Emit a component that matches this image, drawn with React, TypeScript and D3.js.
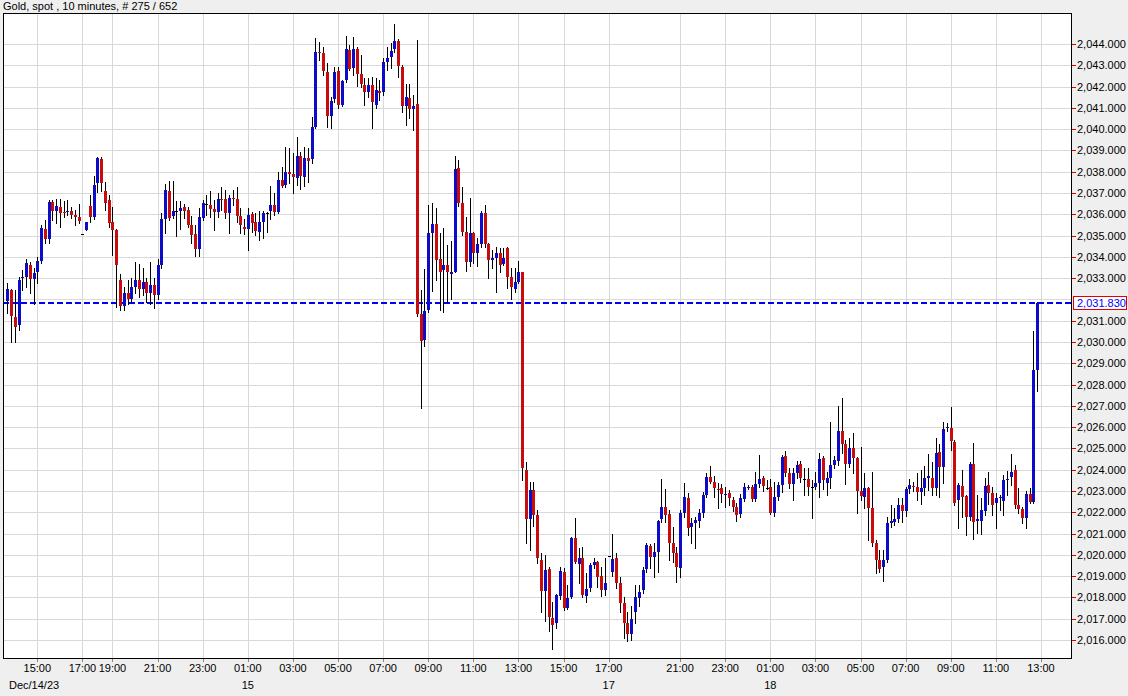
import React, { useEffect } from "react";
import * as d3 from "d3";

// ---- Data (10-minute Gold spot candles) ----
const opens: number[] = [
2031.94,2032.44,2031.16,2030.8,2033.0,2033.07,2033.62,2032.95,2033.3,2033.82,
2035.32,2034.82,2036.56,2036.17,2036.36,2036.1,2036.12,2036.17,2035.98,2035.89,
2035.06,2035.26,2036.39,2035.89,2037.46,2038.6,2037.09,2036.67,2035.65,2035.26,
2032.9,2031.7,2032.3,2032.0,2032.6,2032.9,2032.5,2032.8,2032.3,2032.7,
2032.2,2033.6,2035.78,2037.09,2035.92,2036.15,2036.15,2036.34,2036.2,2035.5,
2035.07,2034.35,2035.84,2036.47,2036.44,2036.23,2036.12,2036.7,2036.72,2036.05,
2036.78,2036.72,2035.92,2035.4,2035.3,2036.01,2035.65,2035.18,2035.65,2036.05,
2036.17,2036.42,2036.12,2037.61,2037.39,2038.0,2037.89,2037.72,2038.74,2037.77,
2038.66,2038.58,2040.12,2043.64,2043.59,2042.7,2040.62,2041.4,2042.73,2041.13,
2042.31,2043.72,2042.86,2043.77,2042.59,2042.07,2041.76,2042.07,2041.13,2041.79,
2041.73,2043.17,2043.39,2043.75,2044.15,2042.93,2041.1,2041.45,2040.93,2041.17,
2031.32,2030.08,2031.5,2035.1,2035.54,2033.9,2033.4,2033.62,2033.2,2033.3,
2038.16,2036.52,2035.18,2033.77,2035.1,2034.2,2034.6,2036.07,2034.6,2033.85,
2033.96,2034.17,2033.66,2034.4,2033.07,2032.5,2032.8,2033.27,2023.99,2021.68,
2023.05,2021.87,2019.76,2018.32,2019.34,2017.05,2016.78,2018.07,2019.21,2017.52,
2018.04,2020.78,2019.57,2019.87,2018.07,2018.46,2019.52,2019.66,2019.0,2018.35,
2019.95,2019.2,2019.84,2018.66,2017.75,2016.8,2016.3,2017.3,2017.96,2018.35,
2019.33,2020.42,2019.9,2020.15,2021.67,2022.23,2021.92,2020.54,2020.1,2019.4,
2021.95,2022.69,2021.33,2021.48,2021.6,2021.95,2022.81,2023.64,2023.44,2023.08,
2023.16,2022.81,2022.89,2022.57,2022.23,2021.92,2022.62,2023.18,2023.2,2022.61,
2023.31,2023.59,2023.16,2023.18,2021.95,2022.73,2023.28,2024.64,2023.86,2023.33,
2023.83,2024.25,2023.55,2023.55,2023.2,2023.2,2023.36,2024.53,2023.36,2023.62,
2024.22,2024.43,2025.83,2025.22,2024.27,2025.02,2024.53,2023.0,2022.73,2023.13,
2022.18,2020.57,2019.76,2019.44,2019.76,2021.5,2021.55,2021.67,2022.34,2022.08,
2023.08,2023.25,2023.2,2022.97,2023.12,2023.6,2023.6,2023.13,2024.85,2024.11,
2025.95,2025.95,2025.29,2022.58,2023.23,2022.77,2021.8,2024.27,2021.6,2021.6,
2022.07,2023.27,2022.89,2022.42,2022.66,2022.55,2023.53,2023.67,2023.99,2022.34,
2022.14,2021.75,2022.86,2022.5,2028.68
];
const highs: number[] = [
2032.76,2032.5,2032.44,2033.07,2033.38,2033.89,2033.77,2033.46,2034.0,2035.5,
2035.73,2036.67,2036.67,2036.7,2036.7,2036.64,2036.67,2036.36,2036.2,2036.5,
2035.06,2035.64,2036.9,2037.8,2038.7,2038.68,2037.53,2036.9,2036.36,2035.3,
2033.2,2032.6,2032.9,2033.0,2033.77,2033.66,2033.46,2033.0,2033.76,2033.0,
2033.9,2036.05,2037.41,2037.56,2037.56,2036.64,2036.62,2036.47,2036.35,2035.9,
2035.5,2036.28,2036.67,2036.9,2037.1,2036.67,2036.98,2037.3,2037.14,2036.9,
2037.14,2037.3,2036.28,2035.76,2036.28,2036.12,2036.05,2036.17,2036.17,2036.12,
2037.33,2037.0,2038.0,2038.23,2039.18,2039.1,2038.87,2039.65,2038.94,2039.15,
2039.1,2040.58,2044.27,2044.11,2043.87,2043.1,2041.52,2042.9,2042.93,2042.3,
2044.38,2043.95,2044.34,2043.87,2043.48,2042.39,2042.39,2042.46,2042.39,2042.31,
2043.36,2043.87,2044.03,2044.92,2044.23,2043.0,2042.12,2042.12,2041.6,2044.19,
2032.44,2033.43,2036.43,2036.52,2036.28,2035.14,2035.34,2034.56,2034.76,2038.74,
2038.55,2037.3,2035.89,2036.75,2035.18,2034.87,2036.15,2036.44,2034.64,2034.32,
2034.48,2034.4,2034.4,2034.48,2033.46,2033.46,2033.82,2033.3,2024.38,2023.44,
2023.44,2022.11,2020.07,2019.99,2019.44,2017.8,2018.16,2019.44,2019.37,2018.58,
2020.85,2021.72,2020.31,2020.39,2019.13,2019.6,2019.83,2019.7,2019.44,2019.84,
2019.95,2020.98,2020.07,2018.97,2018.0,2017.3,2017.6,2018.58,2018.58,2019.44,
2020.54,2020.5,2020.54,2021.64,2023.55,2023.08,2022.11,2021.33,2020.39,2022.11,
2023.39,2022.92,2021.75,2021.8,2022.14,2022.97,2023.83,2024.17,2023.7,2023.39,
2023.33,2023.2,2023.05,2022.73,2022.42,2022.86,2023.36,2023.3,2023.3,2023.9,
2024.69,2023.7,2023.52,2023.55,2023.44,2023.4,2024.69,2024.88,2024.06,2024.06,
2024.42,2024.42,2024.06,2024.06,2023.52,2023.9,2024.77,2024.64,2023.9,2026.26,
2024.65,2027.0,2027.35,2025.4,2025.48,2025.72,2024.61,2025.05,2023.83,2023.2,
2023.9,2020.7,2020.23,2020.23,2021.8,2022.34,2022.2,2022.66,2022.66,2023.2,
2023.55,2023.4,2023.86,2023.99,2024.17,2024.72,2024.38,2025.5,2025.2,2026.26,
2026.2,2026.95,2025.4,2023.36,2023.99,2022.81,2024.38,2025.24,2022.81,2022.66,
2023.6,2023.89,2023.2,2022.89,2022.81,2023.75,2023.95,2024.74,2024.22,2023.13,
2022.26,2023.0,2023.13,2030.53,2031.9
];
const lows: number[] = [
2031.38,2030.02,2029.98,2030.56,2032.44,2032.6,2032.32,2031.77,2032.76,2033.7,
2034.64,2034.64,2035.73,2035.58,2035.42,2035.89,2035.97,2035.81,2035.5,2035.58,
2035.06,2035.26,2035.65,2035.76,2037.06,2037.1,2036.2,2035.42,2034.1,2031.66,
2031.5,2031.5,2031.8,2031.9,2032.3,2032.1,2032.2,2031.9,2031.8,2031.6,
2032.0,2033.5,2035.11,2035.73,2035.81,2034.99,2035.31,2035.81,2035.4,2034.64,
2034.05,2034.05,2035.73,2035.97,2035.89,2035.26,2035.89,2036.2,2035.81,2035.1,
2036.44,2035.65,2035.1,2035.06,2034.32,2035.18,2035.03,2034.79,2034.9,2035.18,
2035.78,2035.97,2036.05,2037.3,2037.3,2037.46,2037.0,2037.38,2037.17,2037.33,
2037.5,2038.4,2040.04,2043.25,2042.54,2040.12,2040.04,2041.29,2040.98,2041.1,
2042.23,2042.78,2042.54,2042.04,2041.99,2041.13,2041.52,2040.04,2040.98,2041.37,
2041.6,2042.78,2042.86,2043.64,2042.46,2040.82,2040.2,2040.51,2039.96,2031.2,
2026.88,2029.83,2031.42,2032.4,2032.9,2031.5,2031.42,2031.9,2032.0,2033.3,
2036.4,2035.03,2033.35,2033.57,2033.7,2033.57,2034.48,2034.48,2033.0,2033.46,
2032.36,2033.3,2033.6,2032.52,2032.0,2032.36,2032.76,2023.5,2020.57,2020.23,
2021.36,2019.63,2017.33,2016.9,2016.4,2015.57,2016.55,2017.93,2017.41,2017.44,
2017.96,2019.6,2018.66,2018.04,2017.8,2018.32,2019.4,2018.5,2018.07,2018.1,
2019.95,2019.0,2018.43,2017.33,2016.1,2015.95,2016.0,2016.8,2017.6,2018.19,
2019.21,2019.37,2018.97,2019.21,2021.56,2021.56,2019.76,2019.68,2018.74,2018.97,
2021.8,2020.95,2020.54,2020.31,2021.33,2021.8,2022.73,2023.36,2022.73,2022.2,
2022.5,2022.26,2022.34,2022.06,2021.6,2021.8,2022.54,2023.1,2022.54,2022.53,
2023.18,2023.0,2023.1,2021.9,2021.83,2022.6,2022.97,2023.7,2023.13,2022.58,
2023.6,2023.4,2022.81,2022.83,2021.72,2023.1,2022.73,2023.08,2022.8,2023.13,
2024.1,2024.22,2024.77,2023.33,2024.14,2023.83,2021.98,2022.6,2022.18,2020.7,
2020.4,2019.13,2019.21,2018.79,2019.68,2021.3,2021.4,2021.56,2021.56,2021.82,
2022.9,2023.0,2022.58,2022.38,2022.81,2023.05,2022.81,2022.81,2022.73,2023.39,
2025.8,2024.93,2022.34,2021.24,2021.77,2020.93,2021.64,2020.73,2021.01,2020.98,
2021.87,2022.39,2021.87,2021.25,2022.1,2021.87,2022.81,2023.28,2022.18,2021.95,
2021.48,2021.28,2022.45,2022.45,2027.7
];
const closes: number[] = [
2032.49,2031.24,2030.72,2032.91,2033.07,2033.73,2032.95,2033.26,2033.8,2035.37,
2034.82,2036.6,2036.17,2036.39,2036.07,2036.05,2036.15,2035.97,2035.86,2035.68,
2035.06,2035.64,2035.89,2037.38,2038.63,2037.46,2036.55,2035.58,2035.26,2033.62,
2031.7,2032.3,2032.0,2032.6,2032.9,2032.5,2032.8,2032.3,2032.7,2032.2,
2033.6,2035.78,2037.14,2035.81,2036.17,2036.15,2036.3,2036.17,2035.5,2035.03,
2034.36,2035.86,2036.55,2036.47,2036.25,2036.12,2036.7,2036.66,2036.05,2036.75,
2036.72,2035.93,2035.5,2035.33,2035.97,2035.6,2035.23,2035.65,2036.05,2036.05,
2036.44,2036.12,2037.61,2037.34,2037.99,2037.9,2037.74,2038.74,2037.8,2038.63,
2038.52,2040.12,2043.64,2043.58,2042.75,2040.63,2041.34,2042.7,2041.13,2042.26,
2043.77,2042.83,2043.77,2042.59,2042.12,2041.76,2042.07,2041.29,2041.84,2041.71,
2043.17,2043.36,2043.67,2044.15,2042.98,2041.1,2041.52,2040.93,2041.1,2031.32,
2030.06,2031.47,2035.1,2035.54,2033.85,2033.3,2033.62,2033.3,2033.29,2038.13,
2036.52,2035.18,2033.77,2035.1,2034.2,2034.6,2036.07,2034.6,2033.85,2033.96,
2034.2,2033.62,2033.93,2033.07,2032.57,2032.83,2033.27,2024.06,2021.68,2023.05,
2021.87,2019.84,2018.32,2019.29,2017.1,2016.7,2018.1,2019.25,2017.52,2017.97,
2020.78,2019.68,2019.87,2018.12,2018.4,2019.52,2019.66,2018.97,2018.35,2018.66,
2019.95,2019.79,2018.69,2017.75,2016.8,2016.3,2017.0,2018.0,2018.27,2019.29,
2020.47,2019.92,2020.15,2021.59,2022.23,2021.87,2020.54,2020.1,2019.44,2021.95,
2022.73,2021.28,2021.48,2021.64,2021.95,2022.81,2023.64,2023.44,2023.16,2023.05,
2022.86,2022.86,2022.69,2022.26,2021.87,2022.69,2023.18,2023.2,2022.62,2023.31,
2023.56,2023.25,2023.16,2021.95,2022.73,2023.28,2024.61,2023.86,2023.31,2023.83,
2024.22,2023.6,2023.55,2023.2,2023.2,2023.36,2024.49,2023.52,2023.6,2024.22,
2024.46,2025.83,2025.22,2024.27,2025.02,2024.53,2023.0,2022.77,2023.13,2022.18,
2020.57,2019.76,2019.33,2019.76,2021.51,2021.57,2021.69,2022.34,2022.08,2023.1,
2023.28,2023.19,2022.97,2023.14,2023.62,2023.7,2023.13,2024.77,2024.14,2025.9,
2026.0,2025.33,2022.45,2023.28,2022.73,2021.8,2024.27,2021.56,2021.67,2022.09,
2023.23,2022.92,2022.34,2022.66,2022.7,2023.52,2023.56,2023.91,2022.34,2022.14,
2021.72,2022.86,2022.5,2028.68,2031.83
];

const lastPrice = 2031.83;
const titleText = "Gold, spot , 10 minutes, # 275 / 652";

const priceTicks: number[] = d3.range(2016, 2045, 1);

const timeTickIdx: number[] = [8,20,28,40,52,64,76,88,100,112,124,136,148,160,179,191,203,215,227,239,251,263,275];
const timeTickLabels: string[] = ["15:00","17:00","19:00","21:00","23:00","01:00","03:00","05:00","07:00","09:00","11:00","13:00","15:00","17:00","21:00","23:00","01:00","03:00","05:00","07:00","09:00","11:00","13:00"];
const dateTickIdx: number[] = [64, 160, 203];
const dateTickLabels: string[] = ["15", "17", "18"];
const firstDateLabel = "Dec/14/23";

// ---- Layout ----
const W = 1128;
const H = 696;
const plotLeft = 3;
const plotRight = 1071;
const plotTop = 13;
const plotBottom = 658;
const FONT = "'Liberation Sans', Arial, sans-serif";
const UP = "#0c0cc8";
const DOWN = "#c80c0c";

export default function App() {
  useEffect(() => {
    document.body.style.margin = "0";
  }, []);

  const x = d3.scaleLinear().domain([0, 274]).range([7.23, 7.23 + 274 * 3.759]);
  const y = d3.scaleLinear().domain([2016, 2044]).range([640, 44]);
  const fmt = d3.format(",.3f");
  const px = (v: number) => Math.round(v) + 0.5;

  const candles = closes.map((c, i) => ({ i, o: opens[i], h: highs[i], l: lows[i], c }));
  // the last-price box hides the axis label it sits on
  const axisTicks = priceTicks.filter((p) => p <= 2044 && Math.abs(y(p) - y(lastPrice)) > 9);
  const lastY = Math.round(y(lastPrice));

  return (
    <svg width={W} height={H} style={{ position: "absolute", left: 0, top: 0, display: "block" }}
      fontFamily={FONT}>
      <rect x={0} y={0} width={W} height={H} fill="#efefef" />
      <rect x={plotLeft} y={plotTop} width={plotRight - plotLeft} height={plotBottom - plotTop} fill="#ffffff" />

      {/* grid */}
      <g shapeRendering="crispEdges">
        {priceTicks.map((p) => (
          <line key={"hg" + p} x1={plotLeft} x2={plotRight} y1={px(y(p))} y2={px(y(p))} stroke="#d9d9d9" strokeWidth={1} />
        ))}
        {timeTickIdx.map((t, k) => (
          <line key={"vg" + k} x1={px(x(t))} x2={px(x(t))} y1={plotTop} y2={plotBottom} stroke="#d9d9d9" strokeWidth={1} />
        ))}
      </g>

      {/* last price dashed line */}
      <line x1={plotLeft} x2={plotRight} y1={lastY} y2={lastY}
        stroke="#0000ff" strokeWidth={2} strokeDasharray="6,3" shapeRendering="crispEdges" />

      {/* candles */}
      <g shapeRendering="crispEdges">
        {candles.map((d) => {
          const cx = Math.round(x(d.i));
          const top = Math.round(y(Math.max(d.o, d.c)));
          const bot = Math.round(y(Math.min(d.o, d.c)));
          const color = d.c > d.o ? UP : d.c < d.o ? DOWN : "#000000";
          const bh = Math.max(1, bot - top);
          return (
            <g key={"c" + d.i}>
              <line x1={cx + 0.5} x2={cx + 0.5} y1={Math.round(y(d.h))} y2={Math.round(y(d.l)) + 1} stroke="#000" strokeWidth={1} />
              <rect x={cx - 1} y={top} width={3} height={bh} fill={color} />
            </g>
          );
        })}
      </g>

      {/* frame */}
      <rect x={plotLeft + 0.5} y={plotTop + 0.5} width={plotRight - plotLeft} height={plotBottom - plotTop}
        fill="none" stroke="#000" strokeWidth={1} shapeRendering="crispEdges" />

      {/* right axis */}
      <g>
        {axisTicks.map((p) => (
          <g key={"yt" + p}>
            <line x1={plotRight + 1} x2={plotRight + 5} y1={px(y(p))} y2={px(y(p))} stroke="#e00000" strokeWidth={1} shapeRendering="crispEdges" />
            <text x={plotRight + 6} y={y(p) + 4} fontSize={11} fill="#000">{fmt(p)}</text>
          </g>
        ))}
        <rect x={plotRight + 2.5} y={lastY - 6.5} width={53} height={13} fill="#fff" stroke="#e00000" strokeWidth={1} shapeRendering="crispEdges" />
        <text x={plotRight + 6} y={y(lastPrice) + 4} fontSize={11} fill="#0000ff">{fmt(lastPrice)}</text>
      </g>

      {/* bottom axis */}
      <g>
        {timeTickIdx.map((t, k) => (
          <g key={"xt" + k}>
            <line x1={px(x(t))} x2={px(x(t))} y1={plotBottom + 1} y2={plotBottom + 4} stroke="#888" strokeWidth={1} shapeRendering="crispEdges" />
            <text x={x(t)} y={672} fontSize={11} textAnchor="middle" fill="#000">{timeTickLabels[k]}</text>
          </g>
        ))}
        {dateTickIdx.map((t, k) => (
          <text key={"dt" + k} x={x(t)} y={689} fontSize={11} textAnchor="middle" fill="#000">{dateTickLabels[k]}</text>
        ))}
        <text x={9} y={689} fontSize={11} fill="#000">{firstDateLabel}</text>
      </g>

      {/* title */}
      <text x={3} y={10} fontSize={11} fill="#000">{titleText}</text>
    </svg>
  );
}
